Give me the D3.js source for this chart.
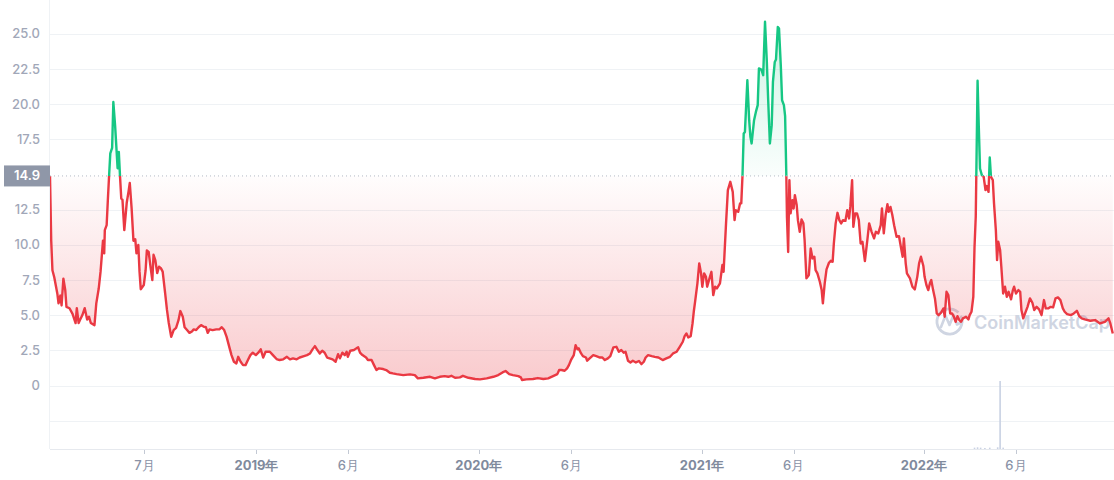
<!DOCTYPE html>
<html><head><meta charset="utf-8">
<script src="https://cdn.jsdelivr.net/npm/d3@7"></script>
<style>body{margin:0;background:#fff}svg{display:block}</style>
</head><body><svg id="chart" width="1114" height="480"></svg>
<script>
// ---- data ----
const days2018 = ["01-27","01-29","01-31","02-03","02-08","02-10","02-13","02-15","02-18","02-21","02-23","02-28",
 "03-05","03-10","03-12","03-15","03-17","03-21","03-25","03-29","04-01","04-04","04-10","04-13","04-17","04-20",
 "04-24","04-26","04-27","04-30","05-02","05-04","05-06","05-09","05-11","05-14","05-18","05-20","05-22","05-24",
 "05-26","05-29","06-02","06-05","06-07","06-10","06-13","06-16","06-18","06-21","06-23","06-25","06-30","07-03",
 "07-05","07-08","07-11","07-14","07-16","07-19","07-22","07-25","07-28","07-31","08-04","08-07","08-10","08-14",
 "08-18","08-22","08-26","08-29","09-02","09-05","09-09","09-13","09-17","09-20","09-24","09-28","10-02","10-06",
 "10-10","10-13","10-16","10-21","10-27","11-01","11-05","11-09","11-13","11-18","11-21","11-25","11-29","12-02",
 "12-06","12-10","12-14","12-18","12-22","12-26","12-31"];
const prices2018 = [14.9,10.3,8.2,7.7,6.55,5.85,6.4,5.7,7.6,6.8,5.6,5.5,
 5.1,4.45,5.5,4.45,4.65,5.0,5.5,4.7,4.9,4.45,4.3,5.85,6.9,8.1,
 10.3,9.4,11.05,11.4,13.2,14.9,16.5,16.9,20.15,18.4,15.45,16.6,14.85,13.3,
 13.2,11.05,13.0,13.8,14.4,12.6,10.3,10.4,9.4,10.0,8.1,6.85,7.15,8.2,
 9.6,9.5,8.45,7.5,9.3,8.9,8.0,8.45,8.35,8.1,6.6,5.4,4.45,3.47,
 3.95,4.1,4.65,5.3,4.9,4.15,3.95,3.75,3.85,4.0,3.95,4.15,4.3,4.2,
 4.15,3.75,4.0,3.95,4.0,4.0,4.15,3.95,3.47,2.65,2.17,1.7,1.58,2.05,
 1.7,1.46,1.46,1.82,2.17,2.34,2.17];

const days2019 = ["01-04","01-08","01-12","01-16","01-23","01-28","02-03","02-08","02-14","02-20","02-25","03-02",
 "03-08","03-13","03-20","03-25","03-30","04-03","04-07","04-11","04-15","04-19","04-23","04-27","05-01","05-06",
 "05-11","05-15","05-18","05-22","05-26","05-29","05-31","06-04","06-10","06-14","06-17","06-20","06-24","06-30",
 "07-03","07-09","07-13","07-17","07-21","07-28","08-02","08-08","08-13","08-19","08-30","09-10","09-18","09-23",
 "10-02","10-13","10-21","10-29","11-06","11-12","11-17","11-23","12-01","12-06","12-15","12-26"];
const prices2019 = [2.34,2.58,2.0,2.41,2.41,2.17,1.89,1.82,1.87,2.05,1.87,1.94,
 1.87,2.0,2.1,2.17,2.29,2.58,2.81,2.53,2.29,2.48,2.34,2.0,1.94,1.87,
 1.7,2.24,1.94,2.34,2.17,2.41,2.05,2.48,2.53,2.65,2.72,2.34,2.17,2.0,
 1.82,1.82,1.46,1.11,1.23,1.18,1.11,0.92,0.87,0.82,0.75,0.8,0.75,0.52,
 0.56,0.63,0.52,0.63,0.68,0.63,0.7,0.56,0.59,0.7,0.56,0.47];

const days2020 = ["01-03","01-14","01-25","02-02","02-09","02-14","02-20","02-26","03-06","03-10","03-12","03-19",
 "03-30","04-07","04-16","04-24","05-02","05-09","05-12","05-16","05-21","05-25","05-28","06-01","06-05","06-08",
 "06-11","06-13","06-17","06-20","06-25","06-27","07-01","07-07","07-12","07-18","07-22","07-26","07-31","08-04",
 "08-09","08-14","08-18","08-22","08-26","08-29","09-02","09-06","09-10","09-15","09-20","09-24","09-28","10-01",
 "10-05","10-11","10-16","10-22","10-29","11-04","11-10","11-15","11-21","11-26","12-01","12-04","12-07","12-10",
 "12-14","12-17","12-19","12-21","12-25","12-28","12-31"];
const prices2020 = [0.45,0.52,0.63,0.75,0.94,1.04,0.82,0.75,0.68,0.59,0.4,0.45,
 0.47,0.54,0.47,0.52,0.68,0.82,1.11,1.11,1.06,1.23,1.46,1.87,2.17,2.88,
 2.58,2.65,2.29,2.1,2.0,1.77,1.94,2.17,2.1,2.0,2.0,1.82,1.94,2.1,
 2.72,2.76,2.41,2.53,2.34,2.41,1.77,1.65,1.77,1.65,1.75,1.53,1.7,2.0,
 2.17,2.1,2.05,2.0,1.82,1.94,2.05,2.29,2.41,2.76,3.12,3.52,3.71,3.43,
 3.52,4.42,5.25,5.9,7.27,8.69,7.98];

const days2021 = ["01-02","01-05","01-08","01-10","01-13","01-17","01-20","01-23","01-26","01-31","02-04","02-06",
 "02-10","02-13","02-17","02-21","02-24","02-26","03-02","03-05","03-07","03-09","03-11","03-13","03-17","03-20",
 "03-22","03-24","03-28","03-31","04-03","04-05","04-09","04-12","04-15","04-18","04-20","04-23","04-26","04-28",
 "05-01","05-03","05-06","05-08","05-11","05-13","05-16","05-18","05-20","05-21","05-23","05-25","05-27","05-30",
 "06-01","06-03","06-06","06-08","06-11","06-14","06-17","06-19","06-22","06-26","06-29","07-02","07-05","07-07",
 "07-10","07-14","07-17","07-19","07-22","07-25","07-29","08-01","08-04","08-06","08-09","08-12","08-15","08-18",
 "08-21","08-25","08-28","08-31","09-02","09-05","09-07","09-10","09-13","09-16","09-19","09-22","09-26","09-30",
 "10-03","10-07","10-11","10-14","10-18","10-22","10-24","10-27","10-30","11-02","11-04","11-07","11-10","11-13",
 "11-17","11-21","11-24","11-27","11-29","12-02","12-04","12-09","12-13","12-17","12-21","12-24","12-27","12-31"];
const prices2021 = [7.03,7.98,7.73,7.03,7.5,8.09,6.43,7.03,6.91,7.27,8.57,8.09,
 11.53,13.89,14.48,13.77,11.76,12.47,12.35,12.95,12.95,14.9,17.92,18.03,21.7,18.86,
 17.68,17.21,18.86,19.45,19.93,22.54,22.46,22.06,25.85,23.0,20.52,17.21,18.51,21.58,
 23.0,23.17,25.49,25.38,22.65,20.28,19.93,19.15,14.9,12.0,9.5,14.6,12.24,13.18,
 12.59,13.54,12.83,11.76,10.93,11.81,11.53,10.34,7.62,7.86,9.75,9.04,9.16,8.21,
 7.98,7.38,6.79,5.85,7.27,8.26,8.73,8.87,8.8,10.1,11.53,12.28,11.76,11.53,
 11.76,11.71,12.47,11.88,12.7,14.6,11.29,12.24,12.24,11.76,10.1,10.22,8.85,10.34,
 11.53,10.93,10.46,10.93,10.82,11.4,12.59,10.82,12.12,12.9,12.35,12.7,12.12,11.4,
 10.58,10.62,9.87,9.16,10.46,8.69,7.98,7.62,7.03,6.84,7.73,8.69,9.16,8.5];

const days2022 = ["01-02","01-05","01-08","01-11","01-13","01-16","01-19","01-22","01-25","01-29","02-02","02-04",
 "02-07","02-10","02-13","02-16","02-19","02-22","02-25","02-28","03-03","03-06","03-11","03-15","03-17","03-20",
 "03-23","03-25","03-27","03-30","04-01","04-03","04-06","04-09","04-12","04-14","04-17","04-19","04-21","04-24",
 "04-26","04-29","05-01","05-03","05-06","05-08","05-11","05-14","05-17","05-20","05-24","05-27","05-29","06-01",
 "06-05","06-08","06-10","06-13","06-16","06-20","06-24","06-28","07-01","07-05","07-09","07-13","07-17","07-20",
 "07-24","07-28","08-01","08-05","08-09","08-13","08-17","08-20","08-24","08-30","09-04","09-09","09-13","09-17",
 "09-22","10-01","10-09","10-17","10-25","10-31","11-03","11-07"];
const prices2022 = [7.73,7.15,6.79,7.31,7.5,6.79,6.2,5.13,5.01,5.18,5.49,4.9,
 6.67,6.43,5.13,5.13,4.9,4.54,4.94,4.66,4.54,4.78,4.9,4.71,5.01,5.25,
 6.31,9.87,12.0,21.66,18.39,15.43,14.96,14.84,13.89,14.18,13.77,16.21,14.84,14.6,
 12.95,11.05,8.92,10.22,9.63,8.45,6.55,7.03,6.31,6.67,6.13,6.79,7.03,6.55,
 6.79,6.67,5.37,4.78,5.13,5.6,6.2,5.89,5.37,5.6,5.42,5.01,6.08,5.49,
 5.49,5.6,5.56,6.2,6.27,6.08,5.49,5.25,5.08,5.01,5.13,5.32,4.94,4.78,
 4.71,4.61,4.66,4.42,4.54,4.78,4.42,3.71];

const volumeDates = ["2022-03-25","2022-03-30","2022-04-04","2022-04-11","2022-04-19","2022-05-02","2022-05-06","2022-05-11"];
const volumeValues = [2,2.5,2,1.5,2,2.5,100,2];

const baselineValue = 14.9;
const yTickValues = [0,2.5,5,7.5,10,12.5,17.5,20,22.5,25];
const gridValues = [-2.5,0,2.5,5,7.5,10,12.5,17.5,20,22.5,25];
const xTickDates = ["2018-07-01","2019-01-01","2019-06-01","2020-01-01","2020-06-01","2021-01-01","2021-06-01","2022-01-01","2022-06-01"];
const xTickLabels = ["7月","2019年","6月","2020年","6月","2021年","6月","2022年","6月"];
const xDomain = ["2018-01-27","2022-11-09"];
const yDomain = [-4.5, 27.4];

// ---- build ----
const parse = d3.utcParse("%Y-%m-%d");
const yearly = [[2018,days2018,prices2018],[2019,days2019,prices2019],[2020,days2020,prices2020],
                [2021,days2021,prices2021],[2022,days2022,prices2022]];
const data = [];
yearly.forEach(([yr, ds, ps]) => ds.forEach((d,i) => data.push({date: parse(yr + "-" + d), value: ps[i]})));

const L = 50, R = 1114, T = 0, B = 449;
const svg = d3.select("#chart");
const x = d3.scaleUtc().domain(xDomain.map(parse)).range([L, R]);
const y = d3.scaleLinear().domain(yDomain).range([B, T]);
const yBase = y(baselineValue);

const defs = svg.append("defs");
const gRed = defs.append("linearGradient").attr("id","gRed").attr("gradientUnits","userSpaceOnUse")
  .attr("x1",0).attr("x2",0).attr("y1",yBase).attr("y2",y(0));
gRed.append("stop").attr("offset",0).attr("stop-color","#ea3943").attr("stop-opacity",0.01);
gRed.append("stop").attr("offset",1).attr("stop-color","#ea3943").attr("stop-opacity",0.27);
const gGreen = defs.append("linearGradient").attr("id","gGreen").attr("gradientUnits","userSpaceOnUse")
  .attr("x1",0).attr("x2",0).attr("y1",yBase).attr("y2",y(26));
gGreen.append("stop").attr("offset",0).attr("stop-color","#16c784").attr("stop-opacity",0.02);
gGreen.append("stop").attr("offset",1).attr("stop-color","#16c784").attr("stop-opacity",0.22);
defs.append("clipPath").attr("id","clipAbove").append("rect")
  .attr("x",L).attr("y",T-5).attr("width",R-L).attr("height",yBase-T+5);
defs.append("clipPath").attr("id","clipBelow").append("rect")
  .attr("x",L).attr("y",yBase).attr("width",R-L).attr("height",B-yBase);

// grid
svg.append("g").selectAll("line").data(gridValues).join("line")
  .attr("x1",L).attr("x2",R).attr("y1",d=>Math.round(y(d))+0.5).attr("y2",d=>Math.round(y(d))+0.5)
  .attr("stroke","#eff2f5").attr("stroke-width",1);
svg.append("line").attr("x1",L-0.5).attr("x2",L-0.5).attr("y1",0).attr("y2",B)
  .attr("stroke","#eff2f5");
svg.append("line").attr("x1",L).attr("x2",R).attr("y1",B+0.5).attr("y2",B+0.5)
  .attr("stroke","#e6e9ee");

// volume
const yVol = d3.scaleLinear().domain([0,100]).range([B, 381]);
svg.append("g").selectAll("rect").data(volumeDates.map((d,i)=>({date:parse(d), v:volumeValues[i]}))).join("rect")
  .attr("x",d=>x(d.date)-0.8).attr("width",1.6)
  .attr("y",d=>yVol(d.v)).attr("height",d=>B-yVol(d.v))
  .attr("fill","#c9d1e3");

// watermark
const wm = svg.append("g").attr("fill","none").attr("stroke","#cfd5e2");
wm.append("path").attr("d", d3.arc()({innerRadius:11.2,outerRadius:14,startAngle:0.35*Math.PI,endAngle:2.25*Math.PI}))
  .attr("transform","translate(949.5,321.5)").attr("fill","#cfd5e2").attr("stroke","none");
wm.append("path").attr("d","M941,327 L945.5,315.5 L949.5,325 L953.5,315 L957,324.5 L962,322")
  .attr("stroke-width",2.6).attr("stroke-linejoin","round").attr("stroke-linecap","round");
svg.append("text").attr("x",974).attr("y",329).text("CoinMarketCap")
  .attr("font-family","Inter, 'Open Sans', sans-serif").attr("font-size",18).attr("font-weight",600)
  .attr("fill","#cfd5e2");

// areas and lines
const area = d3.area().x(d=>x(d.date)).y0(yBase).y1(d=>y(d.value));
const line = d3.line().x(d=>x(d.date)).y(d=>y(d.value));
svg.append("path").datum(data).attr("d",area).attr("fill","url(#gGreen)").attr("clip-path","url(#clipAbove)");
svg.append("path").datum(data).attr("d",area).attr("fill","url(#gRed)").attr("clip-path","url(#clipBelow)");
svg.append("path").datum(data).attr("d",line).attr("fill","none").attr("stroke","#16c784")
  .attr("stroke-width",2.4).attr("stroke-linejoin","round").attr("clip-path","url(#clipAbove)");
svg.append("path").datum(data).attr("d",line).attr("fill","none").attr("stroke","#ea3943")
  .attr("stroke-width",2.4).attr("stroke-linejoin","round").attr("clip-path","url(#clipBelow)");

// baseline dotted
svg.append("line").attr("x1",L).attr("x2",R).attr("y1",yBase).attr("y2",yBase)
  .attr("stroke","#b3b9c5").attr("stroke-width",1).attr("stroke-dasharray","1,3");

// y labels
svg.append("g").selectAll("text").data(yTickValues).join("text")
  .attr("x",40).attr("y",d=>y(d)).attr("dy","0.35em").attr("text-anchor","end")
  .attr("font-family","Inter, sans-serif").attr("font-size",13).attr("font-weight",500)
  .attr("fill","#a1a7b8").text(d=>d===0?"0":d3.format(".1f")(d));

// baseline label
svg.append("rect").attr("x",4).attr("y",yBase-10.5).attr("width",46).attr("height",21).attr("fill","#8f97a8");
svg.append("text").attr("x",27).attr("y",yBase).attr("dy","0.35em").attr("text-anchor","middle")
  .attr("font-family","Inter, sans-serif").attr("font-size",13).attr("font-weight",600)
  .attr("fill","#ffffff").text(d3.format(".1f")(baselineValue));

// x ticks
const xt = svg.append("g");
xt.selectAll("line").data(xTickDates).join("line")
  .attr("x1",d=>Math.round(x(parse(d)))+0.5).attr("x2",d=>Math.round(x(parse(d)))+0.5)
  .attr("y1",B+1).attr("y2",B+5).attr("stroke","#c3c9d4");
xt.selectAll("text").data(xTickDates).join("text")
  .attr("x",d=>x(parse(d))).attr("y",470).attr("text-anchor","middle")
  .attr("font-family","Inter, sans-serif").attr("font-size",13)
  .attr("font-weight",(d,i)=>xTickLabels[i].includes("年")?700:500)
  .attr("fill",(d,i)=>xTickLabels[i].includes("年")?"#808a9d":"#8a92a6")
  .text((d,i)=>xTickLabels[i]);
</script></body></html>
